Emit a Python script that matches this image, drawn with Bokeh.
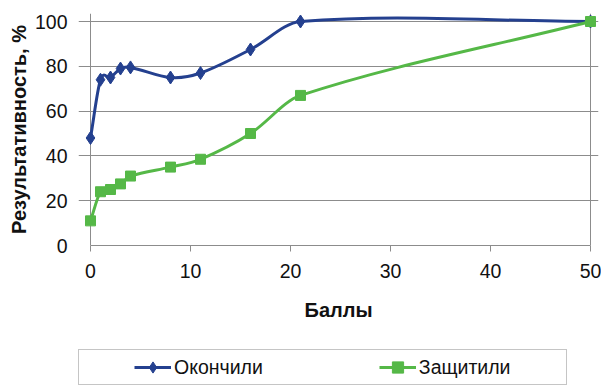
from bokeh.plotting import figure
from bokeh.layouts import column
from bokeh.models import Legend, LegendItem, Range1d, FixedTicker, ColumnDataSource
from bokeh.embed import file_html
from bokeh.resources import INLINE

scores = [0, 1, 2, 3, 4, 8, 11, 16, 21, 50]
finished = [48, 74, 75, 79, 79.5, 75, 77, 87.5, 100, 100]
defended = [11, 24, 25, 27.5, 31, 35, 38.5, 50, 67, 100]
x_ticks = [0, 10, 20, 30, 40, 50]
y_ticks = [0, 20, 40, 60, 80, 100]
series_names = ["Окончили", "Защитили"]

BLUE = "#24408f"
GREEN = "#55b847"
GRID = "#8c8c8c"
FONT = "Liberation Sans"
TICK_SIZE = "19.5px"
TITLE_SIZE = "20px"


def smooth_segments(xs, ys):
    n = len(xs)
    slopes = []
    for i in range(n):
        a = max(i - 1, 0)
        b = min(i + 1, n - 1)
        slopes.append((ys[b] - ys[a]) / (xs[b] - xs[a]))
    d = dict(x0=[], y0=[], x1=[], y1=[], cx0=[], cy0=[], cx1=[], cy1=[])
    for i in range(n - 1):
        h = xs[i + 1] - xs[i]
        d["x0"].append(xs[i]); d["y0"].append(ys[i])
        d["x1"].append(xs[i + 1]); d["y1"].append(ys[i + 1])
        d["cx0"].append(xs[i] + h / 3)
        d["cy0"].append(ys[i] + slopes[i] * h / 3)
        d["cx1"].append(xs[i + 1] - h / 3)
        d["cy1"].append(ys[i + 1] - slopes[i + 1] * h / 3)
    return ColumnDataSource(d)


# ---------- main chart (room round the data so the end markers are not cut)
p = figure(width=601, height=330, output_backend="svg", toolbar_location=None,
           x_range=Range1d(-1.2, 50.8), y_range=Range1d(0, 100 + 8 / 2.24),
           min_border_left=78, min_border_right=3, min_border_top=13, min_border_bottom=85)
p.background_fill_color = "white"
p.border_fill_color = "white"
p.outline_line_color = None

p.ygrid.grid_line_color = GRID
p.ygrid.ticker = FixedTicker(ticks=y_ticks)
p.ygrid.bounds = (-0.6, 50)
p.xgrid.grid_line_color = GRID
p.xgrid.ticker = FixedTicker(ticks=[0, 50])
p.xgrid.bounds = (0, 100)

for ax in (p.xaxis[0], p.yaxis[0]):
    ax.axis_line_color = GRID
    ax.major_tick_line_color = GRID
    ax.minor_tick_line_color = None
    ax.major_tick_in = 0
    ax.major_tick_out = 6
    ax.major_label_text_font = FONT
    ax.major_label_text_font_size = TICK_SIZE
    ax.major_label_text_color = "#111111"
    ax.axis_label_text_font = FONT
    ax.axis_label_text_font_size = TITLE_SIZE
    ax.axis_label_text_font_style = "bold"
    ax.axis_label_text_color = "#111111"

p.xaxis.ticker = FixedTicker(ticks=x_ticks)
p.yaxis.ticker = FixedTicker(ticks=y_ticks)
p.xaxis.bounds = (0, 50)
p.yaxis.axis_line_color = None
p.yaxis.major_tick_line_color = None
p.yaxis.major_tick_out = 0
p.yaxis.major_label_standoff = 11
p.yaxis.axis_label_standoff = 2
p.xaxis.axis_label = "Баллы"
p.yaxis.axis_label = "Результативность, %"
p.xaxis.major_label_standoff = 12
p.xaxis.axis_label_standoff = 18

src_f = smooth_segments(scores, finished)
src_d = smooth_segments(scores, defended)

p.bezier(x0="x0", y0="y0", x1="x1", y1="y1", cx0="cx0", cy0="cy0", cx1="cx1", cy1="cy1",
         source=src_f, line_color=BLUE, line_width=3)
p.scatter(scores, finished, marker="diamond", size=13, fill_color=BLUE, line_color=BLUE)
p.bezier(x0="x0", y0="y0", x1="x1", y1="y1", cx0="cx0", cy0="cy0", cx1="cx1", cy1="cy1",
         source=src_d, line_color=GREEN, line_width=3)
p.scatter(scores, defended, marker="square", size=10, fill_color=GREEN, line_color=GREEN)

# ---------- legend strip below the chart (key renderers sit outside its view)
q = figure(width=601, height=55, output_backend="svg", toolbar_location=None,
           x_range=Range1d(0, 1), y_range=Range1d(0, 1),
           min_border_left=0, min_border_right=0, min_border_top=0, min_border_bottom=0)
q.axis.visible = False
q.grid.grid_line_color = None
q.outline_line_color = None
q.background_fill_color = "white"
q.border_fill_color = "white"

off = dict(x=[-10, -11], y=[-10, -11])
kf_l = q.line(line_color=BLUE, line_width=3, **off)
kf_m = q.scatter(marker="diamond", size=13, fill_color=BLUE, line_color=BLUE, **off)
kd_l = q.line(line_color=GREEN, line_width=3, **off)
kd_m = q.scatter(marker="square", size=10, fill_color=GREEN, line_color=GREEN, **off)
blank = q.scatter(fill_alpha=0, line_alpha=0, **off)

legend = Legend(items=[LegendItem(label=" ", renderers=[blank]),
                       LegendItem(label=series_names[0], renderers=[kf_l, kf_m]),
                       LegendItem(label=" ", renderers=[blank]),
                       LegendItem(label=" ", renderers=[blank]),
                       LegendItem(label=series_names[1], renderers=[kd_l, kd_m]),
                       LegendItem(label=" ", renderers=[blank])],
                orientation="horizontal", location=(0, 0),
                label_text_font=FONT, label_text_font_size=TICK_SIZE, label_text_color="#111111",
                glyph_width=37, glyph_height=28, label_standoff=3, label_width=0,
                spacing=12, padding=3, margin=0,
                border_line_color=GRID, border_line_width=1,
                background_fill_color="white", background_fill_alpha=1)
q.add_layout(legend, "center")

layout = column(p, q, spacing=0)
open("out.html", "w").write(file_html(layout, INLINE))
